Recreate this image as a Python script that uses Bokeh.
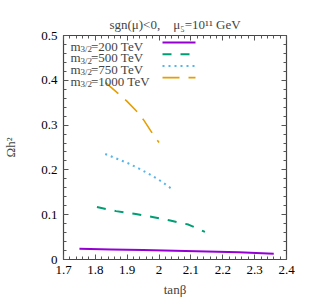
from bokeh.plotting import figure
from bokeh.models import FixedTicker, LinearAxis, Label, Range1d, Arrow
from bokeh.embed import file_html
from bokeh.resources import INLINE

# ---- data ----
x_ticks = [1.7, 1.8, 1.9, 2.0, 2.1, 2.2, 2.3, 2.4]
x_tick_labels = ["1.7", "1.8", "1.9", "2", "2.1", "2.2", "2.3", "2.4"]
y_ticks = [0.0, 0.1, 0.2, 0.3, 0.4, 0.5]
y_tick_labels = ["0", "0.1", "0.2", "0.3", "0.4", "0.5"]

series_names = ["200", "500", "750", "1000"]
tanb_200 = [1.75, 1.85, 1.95, 2.05, 2.15, 2.25, 2.36]
oh2_200 = [0.024, 0.0225, 0.021, 0.0195, 0.0178, 0.016, 0.013]
tanb_500 = [1.805, 1.865, 1.927, 1.979, 2.035, 2.092, 2.144]
oh2_500 = [0.117, 0.108, 0.1015, 0.095, 0.087, 0.078, 0.0615]
tanb_750 = [1.831, 1.903, 1.937, 1.972, 2.006, 2.039]
oh2_750 = [0.2356, 0.2148, 0.203, 0.1896, 0.175, 0.158]
tanb_1000 = [1.832, 1.898, 1.935, 1.953, 1.984, 2.0]
oh2_1000 = [0.395, 0.354, 0.327, 0.31, 0.276, 0.261]

FONT = "Liberation Serif"
colors = ["#9400d3", "#009e73", "#56b4e9", "#e69f00"]
dashes = ["solid", "9 9", "2 4", "17 9"]
widths = [2, 2, 2, 1.6]
xs = [tanb_200, tanb_500, tanb_750, tanb_1000]
ys = [oh2_200, oh2_500, oh2_750, oh2_1000]

p = figure(width=309, height=299,
           x_range=Range1d(1.7, 2.4), y_range=Range1d(0, 0.5),
           output_backend="svg", toolbar_location=None,
           x_axis_location=None, y_axis_location=None,
           min_border_left=60, min_border_right=23,
           min_border_top=35, min_border_bottom=38)
p.grid.visible = False
p.outline_line_color = "#444444"
p.outline_line_width = 1.2
p.background_fill_color = "white"
p.border_fill_color = "white"

p.title.text = "sgn(\u03bc)<0,\u00a0\u00a0\u00a0 \u03bc\u2085=10\u00b9\u00b9 GeV"
p.title.align = "center"
p.title.text_font = FONT
p.title.text_font_size = "13px"
p.title.text_font_style = "normal"
p.title.standoff = 8

x_minor = [round(1.7 + 0.02 * i, 2) for i in range(36)]
y_minor = [round(0.02 * i, 2) for i in range(26)]


def make_axis(cls_ticks, minor, labels, show):
    ax = LinearAxis(ticker=FixedTicker(ticks=cls_ticks, minor_ticks=minor))
    ax.axis_line_color = None
    ax.major_tick_in = 5
    ax.major_tick_out = 0
    ax.minor_tick_in = 3
    ax.minor_tick_out = 0
    ax.major_tick_line_color = "#555555"
    ax.minor_tick_line_color = "#555555"
    ax.major_label_text_font = FONT
    ax.major_label_text_color = "black"
    if show:
        ax.major_label_text_font_size = "13px"
        ax.major_label_overrides = {t: l for t, l in zip(cls_ticks, labels)}
        ax.major_label_standoff = 6
    else:
        ax.major_label_text_font_size = "0px"
        ax.major_label_overrides = {t: "" for t in cls_ticks}
        ax.major_label_standoff = 0
    return ax


bx = make_axis(x_ticks, x_minor, x_tick_labels, True)
bx.axis_label = "tan\u03b2"
bx.axis_label_text_font = FONT
bx.axis_label_text_font_size = "13px"
bx.axis_label_text_font_style = "normal"
bx.axis_label_standoff = 5
p.add_layout(bx, "below")

ly = make_axis(y_ticks, y_minor, y_tick_labels, True)
ly.axis_label = "\u03a9h\u00b2"
ly.axis_label_text_font = FONT
ly.axis_label_text_font_size = "13px"
ly.axis_label_text_font_style = "normal"
ly.axis_label_standoff = 20
p.add_layout(ly, "left")

p.add_layout(make_axis(x_ticks, x_minor, x_tick_labels, False), "above")
p.add_layout(make_axis(y_ticks, y_minor, y_tick_labels, False), "right")

for x, y, c, d, w in zip(xs, ys, colors, dashes, widths):
    p.line(x, y, line_color=c, line_dash=d, line_width=w)

# ---- manual legend (subscripted labels) ----
row_base = [213.5, 201.8, 190.1, 178.4]
for i, name in enumerate(series_names):
    b = row_base[i]
    p.add_layout(Label(x=7, y=b, x_units="screen", y_units="screen", text="m",
                       text_font=FONT, text_font_size="13px", text_baseline="alphabetic"))
    p.add_layout(Label(x=17, y=b - 3, x_units="screen", y_units="screen", text="3/2",
                       text_font=FONT, text_font_size="9px", text_baseline="alphabetic"))
    p.add_layout(Label(x=27.5, y=b, x_units="screen", y_units="screen",
                       text="=" + name + " TeV",
                       text_font=FONT, text_font_size="13px", text_baseline="alphabetic"))
    p.add_layout(Arrow(x_start=99, y_start=b + 3.5, x_end=132, y_end=b + 3.5,
                       start_units="screen", end_units="screen", start=None, end=None,
                       line_color=colors[i], line_dash=dashes[i], line_width=widths[i]))

open("out.html", "w").write(file_html(p, INLINE))
